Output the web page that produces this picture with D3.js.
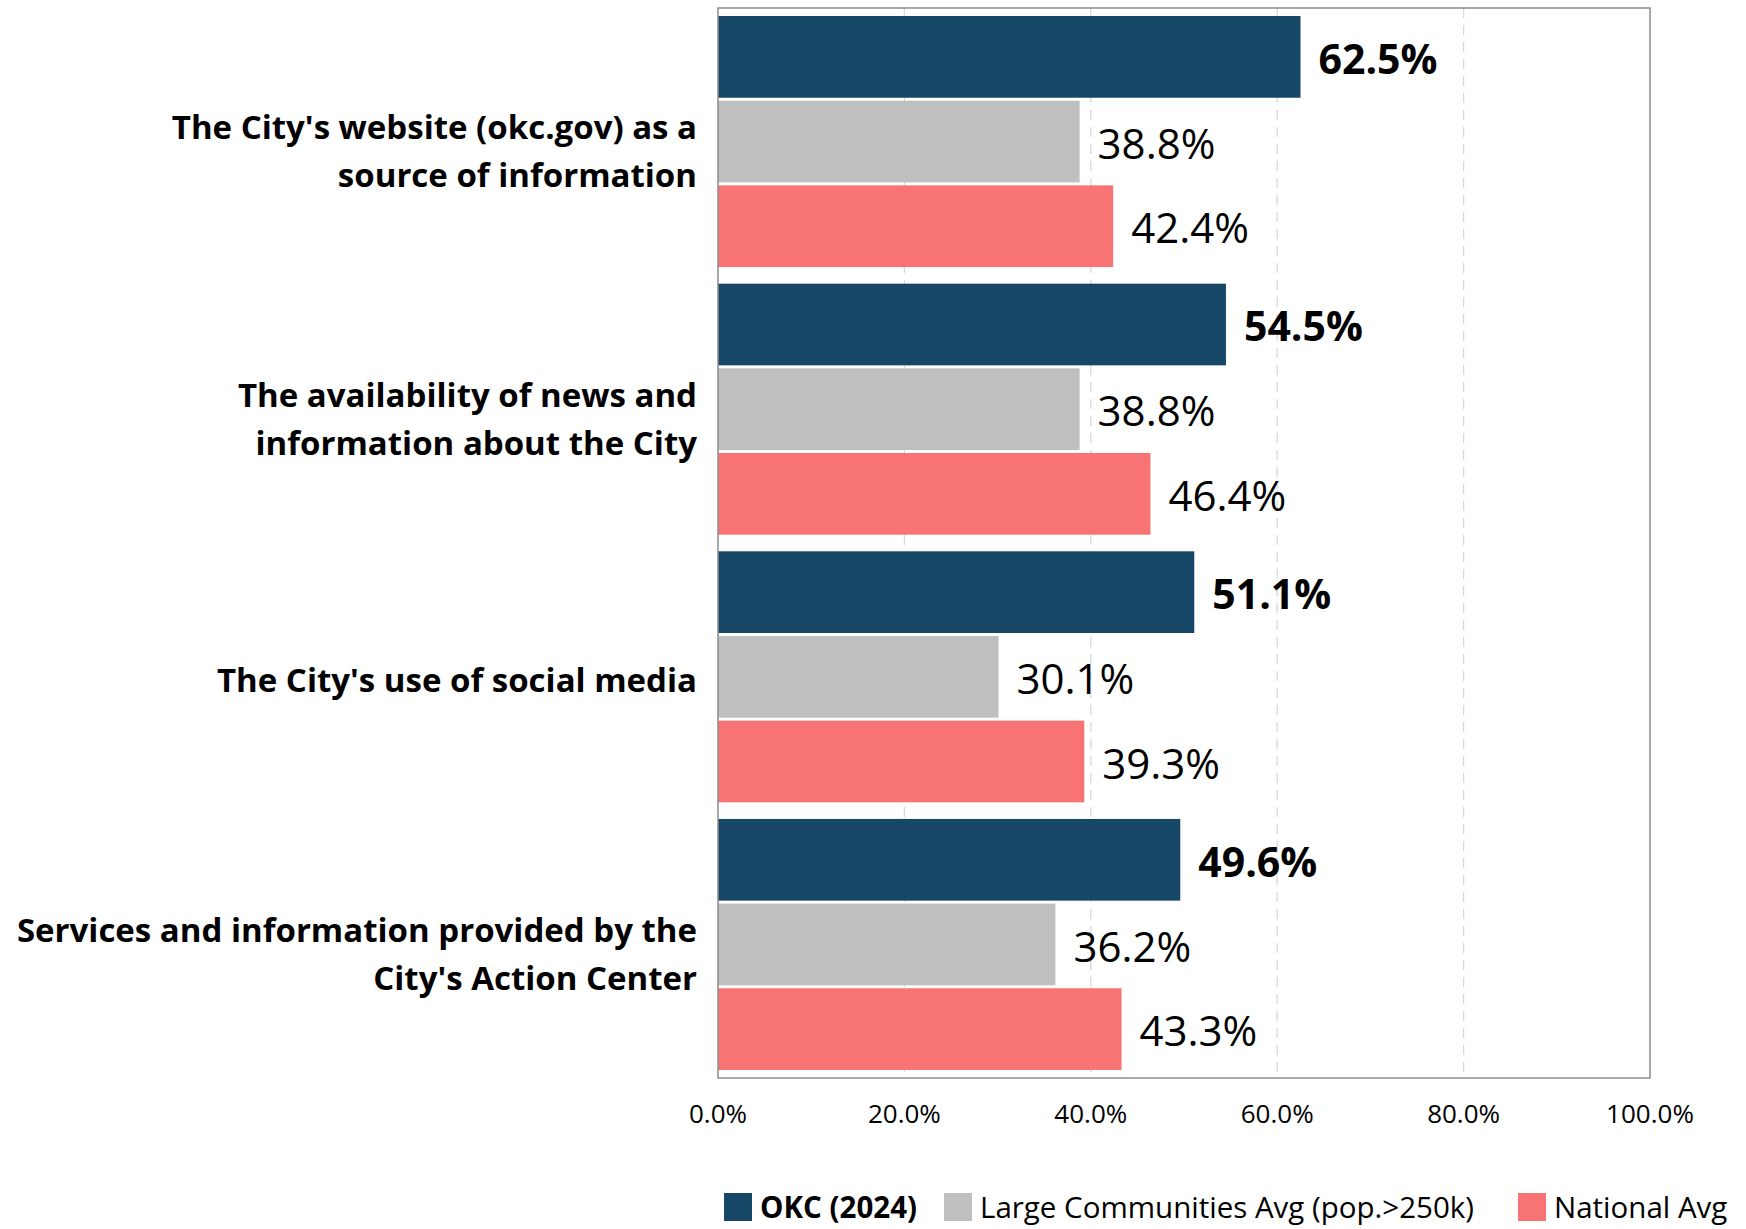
<!DOCTYPE html>
<html>
<head>
<meta charset="utf-8">
<script src="https://cdn.jsdelivr.net/npm/d3@7"></script>
<style>
  html, body { margin: 0; padding: 0; background: #fff; }
  svg { display: block; }
  text { font-family: "Open Sans", "Noto Sans", sans-serif; }
</style>
</head>
<body>
<svg id="chart" width="1746" height="1229"></svg>
<script>
// ---- data ----
const categories = [
  ["The City's website (okc.gov) as a", "source of information"],
  ["The availability of news and", "information about the City"],
  ["The City's use of social media"],
  ["Services and information provided by the", "City's Action Center"]
];
const seriesNames = ["OKC (2024)", "Large Communities Avg (pop.>250k)", "National Avg"];
const okc2024 = [62.5, 54.5, 51.1, 49.6];
const largeCommunities = [38.8, 38.8, 30.1, 36.2];
const nationalAvg = [42.4, 46.4, 39.3, 43.3];
const xTicks = [0, 20, 40, 60, 80, 100];
const xTickLabels = ["0.0%", "20.0%", "40.0%", "60.0%", "80.0%", "100.0%"];

// ---- layout/style ----
const colors = ["#164766", "#bfbfbf", "#f87373"];
const plot = { left: 718, right: 1650, top: 8, bottom: 1078 };

const svg = d3.select("#chart");
const x = d3.scaleLinear().domain([0, 100]).range([plot.left, plot.right]);
const yCat = d3.scaleBand().domain(d3.range(categories.length))
  .range([plot.top, plot.bottom]).paddingInner(0.062).paddingOuter(0.03);
const ySer = d3.scaleBand().domain(d3.range(seriesNames.length))
  .range([0, yCat.bandwidth()]).paddingInner(0.035);

const seriesValues = [okc2024, largeCommunities, nationalAvg];

// gridlines
svg.append("g").selectAll("line")
  .data(xTicks.filter(t => t > 0 && t < 100))
  .join("line")
  .attr("x1", d => x(d)).attr("x2", d => x(d))
  .attr("y1", plot.top).attr("y2", plot.bottom)
  .attr("stroke", "#d9d9d9").attr("stroke-width", 1.3)
  .attr("stroke-dasharray", "10,7");

// bars
const groups = svg.append("g").selectAll("g")
  .data(categories.map((c, i) => i))
  .join("g")
  .attr("transform", i => `translate(0,${yCat(i)})`);

groups.each(function(ci) {
  const g = d3.select(this);
  seriesValues.forEach((vals, si) => {
    g.append("rect")
      .attr("x", x(0))
      .attr("y", ySer(si))
      .attr("width", x(vals[ci]) - x(0))
      .attr("height", ySer.bandwidth())
      .attr("fill", colors[si]);
    g.append("text")
      .attr("x", x(vals[ci]) + 18)
      .attr("y", ySer(si) + ySer.bandwidth() / 2 + 2)
      .attr("dy", "0.36em")
      .attr("font-size", si === 0 ? 41 : 42)
      .attr("font-weight", si === 0 ? 700 : 400)
      .attr("fill", "#000")
      .text(vals[ci].toFixed(1) + "%");
  });
});

// plot border
svg.append("rect")
  .attr("x", plot.left).attr("y", plot.top)
  .attr("width", plot.right - plot.left).attr("height", plot.bottom - plot.top)
  .attr("fill", "none").attr("stroke", "#8c8c8c").attr("stroke-width", 1.5);

// category labels
const lineH = 48;
categories.forEach((lines, i) => {
  const cy = yCat(i) + yCat.bandwidth() / 2 + (lines.length > 1 ? 10 : 3);
  const t = svg.append("text")
    .attr("text-anchor", "end")
    .attr("font-size", 33)
    .attr("font-weight", 700)
    .attr("fill", "#000");
  lines.forEach((ln, k) => {
    t.append("tspan")
      .attr("x", 697)
      .attr("y", cy + (k - (lines.length - 1) / 2) * lineH)
      .attr("dy", "0.36em")
      .text(ln);
  });
});

// x axis tick labels
svg.append("g").selectAll("text")
  .data(xTicks)
  .join("text")
  .attr("x", d => x(d))
  .attr("y", plot.bottom + 36)
  .attr("dy", "0.36em")
  .attr("text-anchor", "middle")
  .attr("font-size", 26)
  .attr("fill", "#000")
  .text((d, i) => xTickLabels[i]);

// legend
const legendY = 1207;
const legendX = [724, 944, 1518];
seriesNames.forEach((name, i) => {
  svg.append("rect")
    .attr("x", legendX[i]).attr("y", legendY - 14)
    .attr("width", 28).attr("height", 28)
    .attr("fill", colors[i]);
  svg.append("text")
    .attr("x", legendX[i] + 36).attr("y", legendY)
    .attr("dy", "0.36em")
    .attr("font-size", 29.5)
    .attr("font-weight", i === 0 ? 700 : 400)
    .attr("fill", "#000")
    .text(name);
});
</script>
</body>
</html>
